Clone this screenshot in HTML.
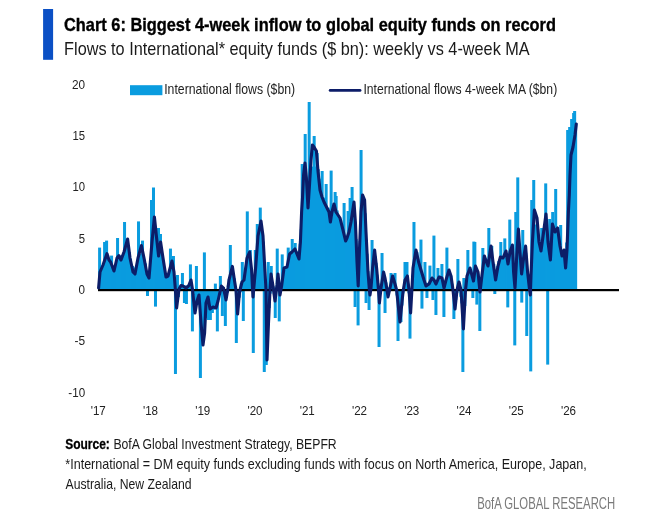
<!DOCTYPE html>
<html><head><meta charset="utf-8"><title>Chart 6</title>
<style>html,body{margin:0;padding:0;background:#fff}svg{display:block}</style></head>
<body>
<svg width="656" height="517" viewBox="0 0 656 517" font-family="'Liberation Sans', sans-serif">
<rect width="656" height="517" fill="#fff"/>
<g fill="#0a9cdf">
<rect x="98.10" y="247.60" width="3.00" height="42.40"/>
<rect x="99.10" y="273.63" width="3.00" height="16.37"/>
<rect x="100.10" y="268.80" width="3.00" height="21.20"/>
<rect x="101.09" y="268.35" width="3.00" height="21.65"/>
<rect x="102.09" y="266.49" width="3.00" height="23.51"/>
<rect x="103.09" y="242.00" width="3.00" height="48.00"/>
<rect x="104.09" y="257.83" width="3.00" height="32.17"/>
<rect x="105.09" y="240.60" width="3.00" height="49.40"/>
<rect x="106.08" y="255.10" width="3.00" height="34.90"/>
<rect x="107.08" y="258.63" width="3.00" height="31.37"/>
<rect x="108.08" y="259.66" width="3.00" height="30.34"/>
<rect x="109.08" y="261.81" width="3.00" height="28.19"/>
<rect x="110.08" y="255.60" width="3.00" height="34.40"/>
<rect x="111.07" y="267.19" width="3.00" height="22.81"/>
<rect x="112.07" y="269.31" width="3.00" height="20.69"/>
<rect x="113.07" y="266.97" width="3.00" height="23.03"/>
<rect x="114.07" y="265.94" width="3.00" height="24.06"/>
<rect x="115.07" y="265.07" width="3.00" height="24.93"/>
<rect x="116.06" y="238.00" width="3.00" height="52.00"/>
<rect x="117.06" y="258.80" width="3.00" height="31.20"/>
<rect x="118.06" y="259.29" width="3.00" height="30.71"/>
<rect x="119.06" y="255.68" width="3.00" height="34.32"/>
<rect x="120.06" y="259.58" width="3.00" height="30.42"/>
<rect x="121.05" y="255.14" width="3.00" height="34.86"/>
<rect x="122.05" y="252.81" width="3.00" height="37.19"/>
<rect x="123.05" y="222.00" width="3.00" height="68.00"/>
<rect x="124.05" y="247.47" width="3.00" height="42.53"/>
<rect x="125.05" y="248.80" width="3.00" height="41.20"/>
<rect x="126.04" y="249.73" width="3.00" height="40.27"/>
<rect x="127.04" y="246.58" width="3.00" height="43.42"/>
<rect x="128.04" y="252.15" width="3.00" height="37.85"/>
<rect x="129.04" y="258.77" width="3.00" height="31.23"/>
<rect x="130.04" y="265.24" width="3.00" height="24.76"/>
<rect x="131.03" y="265.98" width="3.00" height="24.02"/>
<rect x="132.03" y="271.20" width="3.00" height="18.80"/>
<rect x="133.03" y="272.89" width="3.00" height="17.11"/>
<rect x="134.03" y="267.46" width="3.00" height="22.54"/>
<rect x="135.03" y="265.33" width="3.00" height="24.67"/>
<rect x="136.02" y="261.64" width="3.00" height="28.36"/>
<rect x="137.02" y="221.40" width="3.00" height="68.60"/>
<rect x="138.02" y="257.35" width="3.00" height="32.65"/>
<rect x="139.02" y="253.92" width="3.00" height="36.08"/>
<rect x="140.02" y="254.94" width="3.00" height="35.06"/>
<rect x="141.01" y="240.60" width="3.00" height="49.40"/>
<rect x="142.01" y="259.79" width="3.00" height="30.21"/>
<rect x="143.01" y="259.78" width="3.00" height="30.22"/>
<rect x="144.01" y="263.48" width="3.00" height="26.52"/>
<rect x="145.01" y="271.85" width="3.00" height="18.15"/>
<rect x="146.00" y="290.00" width="3.00" height="6.00"/>
<rect x="147.00" y="273.12" width="3.00" height="16.88"/>
<rect x="148.00" y="271.12" width="3.00" height="18.88"/>
<rect x="149.00" y="262.35" width="3.00" height="27.65"/>
<rect x="150.00" y="200.00" width="3.00" height="90.00"/>
<rect x="150.99" y="244.65" width="3.00" height="45.35"/>
<rect x="151.99" y="187.50" width="3.00" height="102.50"/>
<rect x="152.99" y="222.36" width="3.00" height="67.64"/>
<rect x="153.99" y="290.00" width="3.00" height="16.60"/>
<rect x="154.99" y="237.91" width="3.00" height="52.09"/>
<rect x="155.98" y="240.83" width="3.00" height="49.17"/>
<rect x="156.98" y="228.00" width="3.00" height="62.00"/>
<rect x="157.98" y="251.06" width="3.00" height="38.94"/>
<rect x="158.98" y="234.00" width="3.00" height="56.00"/>
<rect x="159.98" y="256.22" width="3.00" height="33.78"/>
<rect x="160.97" y="258.62" width="3.00" height="31.38"/>
<rect x="161.97" y="264.00" width="3.00" height="26.00"/>
<rect x="162.97" y="271.18" width="3.00" height="18.82"/>
<rect x="163.97" y="274.02" width="3.00" height="15.98"/>
<rect x="164.97" y="275.06" width="3.00" height="14.94"/>
<rect x="165.96" y="276.21" width="3.00" height="13.79"/>
<rect x="166.96" y="274.79" width="3.00" height="15.21"/>
<rect x="167.96" y="272.50" width="3.00" height="17.50"/>
<rect x="168.96" y="248.60" width="3.00" height="41.40"/>
<rect x="169.96" y="265.85" width="3.00" height="24.15"/>
<rect x="170.95" y="269.83" width="3.00" height="20.17"/>
<rect x="171.95" y="256.00" width="3.00" height="34.00"/>
<rect x="172.95" y="280.30" width="3.00" height="9.70"/>
<rect x="173.95" y="290.00" width="3.00" height="84.00"/>
<rect x="174.95" y="290.00" width="3.00" height="5.51"/>
<rect x="175.94" y="275.00" width="3.00" height="15.00"/>
<rect x="176.94" y="290.00" width="3.00" height="7.10"/>
<rect x="177.94" y="288.52" width="3.00" height="1.48"/>
<rect x="178.94" y="287.05" width="3.00" height="2.95"/>
<rect x="179.94" y="284.91" width="3.00" height="5.09"/>
<rect x="180.93" y="273.00" width="3.00" height="17.00"/>
<rect x="181.93" y="286.92" width="3.00" height="3.08"/>
<rect x="182.93" y="290.00" width="3.00" height="13.00"/>
<rect x="183.93" y="285.38" width="3.00" height="4.62"/>
<rect x="184.93" y="290.00" width="3.00" height="14.00"/>
<rect x="185.92" y="286.19" width="3.00" height="3.81"/>
<rect x="186.92" y="286.58" width="3.00" height="3.42"/>
<rect x="187.92" y="284.51" width="3.00" height="5.49"/>
<rect x="188.92" y="264.40" width="3.00" height="25.60"/>
<rect x="189.92" y="284.83" width="3.00" height="5.17"/>
<rect x="190.91" y="290.00" width="3.00" height="41.40"/>
<rect x="191.91" y="290.00" width="3.00" height="9.47"/>
<rect x="192.91" y="290.00" width="3.00" height="12.52"/>
<rect x="193.91" y="290.00" width="3.00" height="14.08"/>
<rect x="194.91" y="266.00" width="3.00" height="24.00"/>
<rect x="195.90" y="290.00" width="3.00" height="11.64"/>
<rect x="196.90" y="290.00" width="3.00" height="12.36"/>
<rect x="197.90" y="290.00" width="3.00" height="14.94"/>
<rect x="198.90" y="290.00" width="3.00" height="88.00"/>
<rect x="199.90" y="290.00" width="3.00" height="37.40"/>
<rect x="200.89" y="290.00" width="3.00" height="40.92"/>
<rect x="201.89" y="290.00" width="3.00" height="43.58"/>
<rect x="202.89" y="252.40" width="3.00" height="37.60"/>
<rect x="203.89" y="290.00" width="3.00" height="28.22"/>
<rect x="204.89" y="290.00" width="3.00" height="24.00"/>
<rect x="205.88" y="290.00" width="3.00" height="9.50"/>
<rect x="206.88" y="290.00" width="3.00" height="30.00"/>
<rect x="207.88" y="290.00" width="3.00" height="14.30"/>
<rect x="208.88" y="290.00" width="3.00" height="30.00"/>
<rect x="209.88" y="290.00" width="3.00" height="17.43"/>
<rect x="210.87" y="290.00" width="3.00" height="23.00"/>
<rect x="211.87" y="290.00" width="3.00" height="19.65"/>
<rect x="212.87" y="290.00" width="3.00" height="19.07"/>
<rect x="213.87" y="283.60" width="3.00" height="6.40"/>
<rect x="214.87" y="290.00" width="3.00" height="15.61"/>
<rect x="215.86" y="290.00" width="3.00" height="41.40"/>
<rect x="216.86" y="290.00" width="3.00" height="9.20"/>
<rect x="217.86" y="290.00" width="3.00" height="4.89"/>
<rect x="218.86" y="276.00" width="3.00" height="14.00"/>
<rect x="219.86" y="288.19" width="3.00" height="1.81"/>
<rect x="220.85" y="290.00" width="3.00" height="26.00"/>
<rect x="221.85" y="287.32" width="3.00" height="2.68"/>
<rect x="222.85" y="290.00" width="3.00" height="3.45"/>
<rect x="223.85" y="290.00" width="3.00" height="36.00"/>
<rect x="224.85" y="290.00" width="3.00" height="3.78"/>
<rect x="225.84" y="290.00" width="3.00" height="2.73"/>
<rect x="226.84" y="285.31" width="3.00" height="4.69"/>
<rect x="227.84" y="278.91" width="3.00" height="11.09"/>
<rect x="228.84" y="245.00" width="3.00" height="45.00"/>
<rect x="229.84" y="270.69" width="3.00" height="19.31"/>
<rect x="230.83" y="273.08" width="3.00" height="16.92"/>
<rect x="231.83" y="275.79" width="3.00" height="14.21"/>
<rect x="232.83" y="278.36" width="3.00" height="11.64"/>
<rect x="233.83" y="285.95" width="3.00" height="4.05"/>
<rect x="234.83" y="290.00" width="3.00" height="53.00"/>
<rect x="235.82" y="290.00" width="3.00" height="11.17"/>
<rect x="236.82" y="290.00" width="3.00" height="12.03"/>
<rect x="237.82" y="290.00" width="3.00" height="7.66"/>
<rect x="238.82" y="290.00" width="3.00" height="2.31"/>
<rect x="239.82" y="283.29" width="3.00" height="6.71"/>
<rect x="240.81" y="262.00" width="3.00" height="28.00"/>
<rect x="241.81" y="290.00" width="3.00" height="31.00"/>
<rect x="242.81" y="275.68" width="3.00" height="14.32"/>
<rect x="243.81" y="272.03" width="3.00" height="17.97"/>
<rect x="244.81" y="267.75" width="3.00" height="22.25"/>
<rect x="245.80" y="211.40" width="3.00" height="78.60"/>
<rect x="246.80" y="253.18" width="3.00" height="36.82"/>
<rect x="247.80" y="259.06" width="3.00" height="30.94"/>
<rect x="248.80" y="250.00" width="3.00" height="40.00"/>
<rect x="249.80" y="267.78" width="3.00" height="22.22"/>
<rect x="250.79" y="278.15" width="3.00" height="11.85"/>
<rect x="251.79" y="290.00" width="3.00" height="63.00"/>
<rect x="252.79" y="278.38" width="3.00" height="11.62"/>
<rect x="253.79" y="250.00" width="3.00" height="40.00"/>
<rect x="254.79" y="259.49" width="3.00" height="30.51"/>
<rect x="255.78" y="224.00" width="3.00" height="66.00"/>
<rect x="256.78" y="238.43" width="3.00" height="51.57"/>
<rect x="257.78" y="231.53" width="3.00" height="58.47"/>
<rect x="258.78" y="207.60" width="3.00" height="82.40"/>
<rect x="259.78" y="227.99" width="3.00" height="62.01"/>
<rect x="260.77" y="238.59" width="3.00" height="51.41"/>
<rect x="261.77" y="241.61" width="3.00" height="48.39"/>
<rect x="262.77" y="290.00" width="3.00" height="82.00"/>
<rect x="263.77" y="285.53" width="3.00" height="4.47"/>
<rect x="264.77" y="290.00" width="3.00" height="75.00"/>
<rect x="265.76" y="290.00" width="3.00" height="32.13"/>
<rect x="266.76" y="262.00" width="3.00" height="28.00"/>
<rect x="267.76" y="290.00" width="3.00" height="18.01"/>
<rect x="268.76" y="290.00" width="3.00" height="3.65"/>
<rect x="269.76" y="266.00" width="3.00" height="24.00"/>
<rect x="270.75" y="282.71" width="3.00" height="7.29"/>
<rect x="271.75" y="286.38" width="3.00" height="3.62"/>
<rect x="272.75" y="290.00" width="3.00" height="4.33"/>
<rect x="273.75" y="290.00" width="3.00" height="28.00"/>
<rect x="274.75" y="287.54" width="3.00" height="2.46"/>
<rect x="275.74" y="248.60" width="3.00" height="41.40"/>
<rect x="276.74" y="282.44" width="3.00" height="7.56"/>
<rect x="277.74" y="290.00" width="3.00" height="31.40"/>
<rect x="278.74" y="287.72" width="3.00" height="2.28"/>
<rect x="279.74" y="287.28" width="3.00" height="2.72"/>
<rect x="280.73" y="254.40" width="3.00" height="35.60"/>
<rect x="281.73" y="276.27" width="3.00" height="13.73"/>
<rect x="282.73" y="270.48" width="3.00" height="19.52"/>
<rect x="283.73" y="269.44" width="3.00" height="20.56"/>
<rect x="284.73" y="269.17" width="3.00" height="20.83"/>
<rect x="285.72" y="267.54" width="3.00" height="22.46"/>
<rect x="286.72" y="247.60" width="3.00" height="42.40"/>
<rect x="287.72" y="260.15" width="3.00" height="29.85"/>
<rect x="288.72" y="253.38" width="3.00" height="36.62"/>
<rect x="289.72" y="251.29" width="3.00" height="38.71"/>
<rect x="290.71" y="239.00" width="3.00" height="51.00"/>
<rect x="291.71" y="252.65" width="3.00" height="37.35"/>
<rect x="292.71" y="248.19" width="3.00" height="41.81"/>
<rect x="293.71" y="243.00" width="3.00" height="47.00"/>
<rect x="294.71" y="251.11" width="3.00" height="38.89"/>
<rect x="295.70" y="256.60" width="3.00" height="33.40"/>
<rect x="296.70" y="259.91" width="3.00" height="30.09"/>
<rect x="297.70" y="253.60" width="3.00" height="36.40"/>
<rect x="298.70" y="243.84" width="3.00" height="46.16"/>
<rect x="299.70" y="229.39" width="3.00" height="60.61"/>
<rect x="300.69" y="164.00" width="3.00" height="126.00"/>
<rect x="301.69" y="195.69" width="3.00" height="94.31"/>
<rect x="302.69" y="185.55" width="3.00" height="104.45"/>
<rect x="303.69" y="134.00" width="3.00" height="156.00"/>
<rect x="304.69" y="188.40" width="3.00" height="101.60"/>
<rect x="305.68" y="181.88" width="3.00" height="108.12"/>
<rect x="306.68" y="198.58" width="3.00" height="91.42"/>
<rect x="307.68" y="102.00" width="3.00" height="188.00"/>
<rect x="308.68" y="191.41" width="3.00" height="98.59"/>
<rect x="309.68" y="167.10" width="3.00" height="122.90"/>
<rect x="310.67" y="166.59" width="3.00" height="123.41"/>
<rect x="311.67" y="169.41" width="3.00" height="120.59"/>
<rect x="312.67" y="136.00" width="3.00" height="154.00"/>
<rect x="313.67" y="170.44" width="3.00" height="119.56"/>
<rect x="314.67" y="166.59" width="3.00" height="123.41"/>
<rect x="315.66" y="153.00" width="3.00" height="137.00"/>
<rect x="316.66" y="169.08" width="3.00" height="120.92"/>
<rect x="317.66" y="178.66" width="3.00" height="111.34"/>
<rect x="318.66" y="194.84" width="3.00" height="95.16"/>
<rect x="319.66" y="188.35" width="3.00" height="101.65"/>
<rect x="320.65" y="171.00" width="3.00" height="119.00"/>
<rect x="321.65" y="210.50" width="3.00" height="79.50"/>
<rect x="322.65" y="197.61" width="3.00" height="92.39"/>
<rect x="323.65" y="202.06" width="3.00" height="87.94"/>
<rect x="324.65" y="184.00" width="3.00" height="106.00"/>
<rect x="325.64" y="209.97" width="3.00" height="80.03"/>
<rect x="326.64" y="207.72" width="3.00" height="82.28"/>
<rect x="327.64" y="214.35" width="3.00" height="75.65"/>
<rect x="328.64" y="214.72" width="3.00" height="75.28"/>
<rect x="329.64" y="170.60" width="3.00" height="119.40"/>
<rect x="330.63" y="221.64" width="3.00" height="68.36"/>
<rect x="331.63" y="217.39" width="3.00" height="72.61"/>
<rect x="332.63" y="209.48" width="3.00" height="80.52"/>
<rect x="333.63" y="192.00" width="3.00" height="98.00"/>
<rect x="334.63" y="196.00" width="3.00" height="94.00"/>
<rect x="335.62" y="210.49" width="3.00" height="79.51"/>
<rect x="336.62" y="217.63" width="3.00" height="72.37"/>
<rect x="337.62" y="218.68" width="3.00" height="71.32"/>
<rect x="338.62" y="219.36" width="3.00" height="70.64"/>
<rect x="339.62" y="231.82" width="3.00" height="58.18"/>
<rect x="340.61" y="226.57" width="3.00" height="63.43"/>
<rect x="341.61" y="227.84" width="3.00" height="62.16"/>
<rect x="342.61" y="203.00" width="3.00" height="87.00"/>
<rect x="343.61" y="238.51" width="3.00" height="51.49"/>
<rect x="344.61" y="236.47" width="3.00" height="53.53"/>
<rect x="345.60" y="238.82" width="3.00" height="51.18"/>
<rect x="346.60" y="211.00" width="3.00" height="79.00"/>
<rect x="347.60" y="230.17" width="3.00" height="59.83"/>
<rect x="348.60" y="198.00" width="3.00" height="92.00"/>
<rect x="349.60" y="230.19" width="3.00" height="59.81"/>
<rect x="350.59" y="187.00" width="3.00" height="103.00"/>
<rect x="351.59" y="211.78" width="3.00" height="78.22"/>
<rect x="352.59" y="215.89" width="3.00" height="74.11"/>
<rect x="353.59" y="290.00" width="3.00" height="17.00"/>
<rect x="354.59" y="239.04" width="3.00" height="50.96"/>
<rect x="355.58" y="252.63" width="3.00" height="37.37"/>
<rect x="356.58" y="290.00" width="3.00" height="35.40"/>
<rect x="357.58" y="251.54" width="3.00" height="38.46"/>
<rect x="358.58" y="240.77" width="3.00" height="49.23"/>
<rect x="359.58" y="150.00" width="3.00" height="140.00"/>
<rect x="360.57" y="213.24" width="3.00" height="76.76"/>
<rect x="361.57" y="198.00" width="3.00" height="92.00"/>
<rect x="362.57" y="199.92" width="3.00" height="90.08"/>
<rect x="363.57" y="213.27" width="3.00" height="76.73"/>
<rect x="364.57" y="290.00" width="3.00" height="13.00"/>
<rect x="365.56" y="253.68" width="3.00" height="36.32"/>
<rect x="366.56" y="271.17" width="3.00" height="18.83"/>
<rect x="367.56" y="290.00" width="3.00" height="20.00"/>
<rect x="368.56" y="285.84" width="3.00" height="4.16"/>
<rect x="369.56" y="283.64" width="3.00" height="6.36"/>
<rect x="370.55" y="240.00" width="3.00" height="50.00"/>
<rect x="371.55" y="267.02" width="3.00" height="22.98"/>
<rect x="372.55" y="259.04" width="3.00" height="30.96"/>
<rect x="373.55" y="256.12" width="3.00" height="33.88"/>
<rect x="374.55" y="262.82" width="3.00" height="27.18"/>
<rect x="375.54" y="274.67" width="3.00" height="15.33"/>
<rect x="376.54" y="283.28" width="3.00" height="6.72"/>
<rect x="377.54" y="290.00" width="3.00" height="57.00"/>
<rect x="378.54" y="290.00" width="3.00" height="1.27"/>
<rect x="379.54" y="287.50" width="3.00" height="2.50"/>
<rect x="380.53" y="253.00" width="3.00" height="37.00"/>
<rect x="381.53" y="279.18" width="3.00" height="10.82"/>
<rect x="382.53" y="277.93" width="3.00" height="12.07"/>
<rect x="383.53" y="290.00" width="3.00" height="23.00"/>
<rect x="384.53" y="282.45" width="3.00" height="7.55"/>
<rect x="385.52" y="286.97" width="3.00" height="3.03"/>
<rect x="386.52" y="290.00" width="3.00" height="2.39"/>
<rect x="388.52" y="287.27" width="3.00" height="2.73"/>
<rect x="389.52" y="273.00" width="3.00" height="17.00"/>
<rect x="390.51" y="282.20" width="3.00" height="7.80"/>
<rect x="391.51" y="279.81" width="3.00" height="10.19"/>
<rect x="392.51" y="281.19" width="3.00" height="8.81"/>
<rect x="393.51" y="273.00" width="3.00" height="17.00"/>
<rect x="394.51" y="289.15" width="3.00" height="0.85"/>
<rect x="395.50" y="290.00" width="3.00" height="5.48"/>
<rect x="396.50" y="290.00" width="3.00" height="51.00"/>
<rect x="397.50" y="290.00" width="3.00" height="17.41"/>
<rect x="398.50" y="290.00" width="3.00" height="22.09"/>
<rect x="399.50" y="290.00" width="3.00" height="32.00"/>
<rect x="400.49" y="290.00" width="3.00" height="15.55"/>
<rect x="401.49" y="290.00" width="3.00" height="3.33"/>
<rect x="402.49" y="288.10" width="3.00" height="1.90"/>
<rect x="403.49" y="262.00" width="3.00" height="28.00"/>
<rect x="404.49" y="280.32" width="3.00" height="9.68"/>
<rect x="405.48" y="262.00" width="3.00" height="28.00"/>
<rect x="406.48" y="283.67" width="3.00" height="6.33"/>
<rect x="407.48" y="290.00" width="3.00" height="3.25"/>
<rect x="408.48" y="290.00" width="3.00" height="48.60"/>
<rect x="409.48" y="290.00" width="3.00" height="5.13"/>
<rect x="410.47" y="288.52" width="3.00" height="1.48"/>
<rect x="411.47" y="274.54" width="3.00" height="15.46"/>
<rect x="412.47" y="222.00" width="3.00" height="68.00"/>
<rect x="413.47" y="260.60" width="3.00" height="29.40"/>
<rect x="414.47" y="257.06" width="3.00" height="32.94"/>
<rect x="415.46" y="252.18" width="3.00" height="37.82"/>
<rect x="416.46" y="258.66" width="3.00" height="31.34"/>
<rect x="417.46" y="265.20" width="3.00" height="24.80"/>
<rect x="418.46" y="264.93" width="3.00" height="25.07"/>
<rect x="419.46" y="239.60" width="3.00" height="50.40"/>
<rect x="420.45" y="290.00" width="3.00" height="18.60"/>
<rect x="421.45" y="274.16" width="3.00" height="15.84"/>
<rect x="422.45" y="279.25" width="3.00" height="10.75"/>
<rect x="423.45" y="262.00" width="3.00" height="28.00"/>
<rect x="424.45" y="282.95" width="3.00" height="7.05"/>
<rect x="425.44" y="290.00" width="3.00" height="8.00"/>
<rect x="426.44" y="282.96" width="3.00" height="7.04"/>
<rect x="427.44" y="282.84" width="3.00" height="7.16"/>
<rect x="428.44" y="265.60" width="3.00" height="24.40"/>
<rect x="429.44" y="279.20" width="3.00" height="10.80"/>
<rect x="430.43" y="279.62" width="3.00" height="10.38"/>
<rect x="431.43" y="290.00" width="3.00" height="10.00"/>
<rect x="432.43" y="235.60" width="3.00" height="54.40"/>
<rect x="433.43" y="283.36" width="3.00" height="6.64"/>
<rect x="434.43" y="290.00" width="3.00" height="25.00"/>
<rect x="435.42" y="282.04" width="3.00" height="7.96"/>
<rect x="436.42" y="268.00" width="3.00" height="22.00"/>
<rect x="437.42" y="278.81" width="3.00" height="11.19"/>
<rect x="438.42" y="275.81" width="3.00" height="14.19"/>
<rect x="439.42" y="277.04" width="3.00" height="12.96"/>
<rect x="440.41" y="264.00" width="3.00" height="26.00"/>
<rect x="441.41" y="280.46" width="3.00" height="9.54"/>
<rect x="442.41" y="290.00" width="3.00" height="27.00"/>
<rect x="443.41" y="282.06" width="3.00" height="7.94"/>
<rect x="444.41" y="281.35" width="3.00" height="8.65"/>
<rect x="445.40" y="247.60" width="3.00" height="42.40"/>
<rect x="446.40" y="276.78" width="3.00" height="13.22"/>
<rect x="447.40" y="274.04" width="3.00" height="15.96"/>
<rect x="448.40" y="274.46" width="3.00" height="15.54"/>
<rect x="449.40" y="275.68" width="3.00" height="14.32"/>
<rect x="450.39" y="283.69" width="3.00" height="6.31"/>
<rect x="451.39" y="290.00" width="3.00" height="0.47"/>
<rect x="452.39" y="290.00" width="3.00" height="29.00"/>
<rect x="453.39" y="290.00" width="3.00" height="10.18"/>
<rect x="454.39" y="290.00" width="3.00" height="9.81"/>
<rect x="455.38" y="290.00" width="3.00" height="3.03"/>
<rect x="456.38" y="259.00" width="3.00" height="31.00"/>
<rect x="457.38" y="283.72" width="3.00" height="6.28"/>
<rect x="458.38" y="287.79" width="3.00" height="2.21"/>
<rect x="459.38" y="290.00" width="3.00" height="6.77"/>
<rect x="460.37" y="290.00" width="3.00" height="13.36"/>
<rect x="461.37" y="290.00" width="3.00" height="82.00"/>
<rect x="462.37" y="278.00" width="3.00" height="12.00"/>
<rect x="463.37" y="290.00" width="3.00" height="16.01"/>
<rect x="465.36" y="279.25" width="3.00" height="10.75"/>
<rect x="466.36" y="250.00" width="3.00" height="40.00"/>
<rect x="467.36" y="271.48" width="3.00" height="18.52"/>
<rect x="468.36" y="272.31" width="3.00" height="17.69"/>
<rect x="469.36" y="275.23" width="3.00" height="14.77"/>
<rect x="470.35" y="276.04" width="3.00" height="13.96"/>
<rect x="471.35" y="290.00" width="3.00" height="8.00"/>
<rect x="472.35" y="241.60" width="3.00" height="48.40"/>
<rect x="473.35" y="242.00" width="3.00" height="48.00"/>
<rect x="474.35" y="269.10" width="3.00" height="20.90"/>
<rect x="475.34" y="290.00" width="3.00" height="14.60"/>
<rect x="476.34" y="273.69" width="3.00" height="16.31"/>
<rect x="477.34" y="280.89" width="3.00" height="9.11"/>
<rect x="478.34" y="290.00" width="3.00" height="41.00"/>
<rect x="479.34" y="280.55" width="3.00" height="9.45"/>
<rect x="480.33" y="277.37" width="3.00" height="12.63"/>
<rect x="481.33" y="248.00" width="3.00" height="42.00"/>
<rect x="482.33" y="261.99" width="3.00" height="28.01"/>
<rect x="483.33" y="258.06" width="3.00" height="31.94"/>
<rect x="484.33" y="262.75" width="3.00" height="27.25"/>
<rect x="485.32" y="259.59" width="3.00" height="30.41"/>
<rect x="486.32" y="262.95" width="3.00" height="27.05"/>
<rect x="487.32" y="228.00" width="3.00" height="62.00"/>
<rect x="488.32" y="258.62" width="3.00" height="31.38"/>
<rect x="489.32" y="250.43" width="3.00" height="39.57"/>
<rect x="490.31" y="246.00" width="3.00" height="44.00"/>
<rect x="491.31" y="262.42" width="3.00" height="27.58"/>
<rect x="492.31" y="263.93" width="3.00" height="26.07"/>
<rect x="493.31" y="290.00" width="3.00" height="4.00"/>
<rect x="494.31" y="273.98" width="3.00" height="16.02"/>
<rect x="495.30" y="271.75" width="3.00" height="18.25"/>
<rect x="496.30" y="266.00" width="3.00" height="24.00"/>
<rect x="497.30" y="261.05" width="3.00" height="28.95"/>
<rect x="498.30" y="260.71" width="3.00" height="29.29"/>
<rect x="499.30" y="242.00" width="3.00" height="48.00"/>
<rect x="500.29" y="257.70" width="3.00" height="32.30"/>
<rect x="501.29" y="258.81" width="3.00" height="31.19"/>
<rect x="502.29" y="259.81" width="3.00" height="30.19"/>
<rect x="503.29" y="238.40" width="3.00" height="51.60"/>
<rect x="504.29" y="255.40" width="3.00" height="34.60"/>
<rect x="505.28" y="253.15" width="3.00" height="36.85"/>
<rect x="506.28" y="290.00" width="3.00" height="17.40"/>
<rect x="507.28" y="260.79" width="3.00" height="29.21"/>
<rect x="508.28" y="219.60" width="3.00" height="70.40"/>
<rect x="509.28" y="253.84" width="3.00" height="36.16"/>
<rect x="510.27" y="251.76" width="3.00" height="38.24"/>
<rect x="511.27" y="257.31" width="3.00" height="32.69"/>
<rect x="512.27" y="268.95" width="3.00" height="21.05"/>
<rect x="513.27" y="290.00" width="3.00" height="55.40"/>
<rect x="514.27" y="212.00" width="3.00" height="78.00"/>
<rect x="515.26" y="256.79" width="3.00" height="33.21"/>
<rect x="516.26" y="177.40" width="3.00" height="112.60"/>
<rect x="517.26" y="247.34" width="3.00" height="42.66"/>
<rect x="518.26" y="250.40" width="3.00" height="39.60"/>
<rect x="519.26" y="258.33" width="3.00" height="31.67"/>
<rect x="520.25" y="290.00" width="3.00" height="12.60"/>
<rect x="521.25" y="230.00" width="3.00" height="60.00"/>
<rect x="522.25" y="256.73" width="3.00" height="33.27"/>
<rect x="523.25" y="254.29" width="3.00" height="35.71"/>
<rect x="524.25" y="252.91" width="3.00" height="37.09"/>
<rect x="525.24" y="290.00" width="3.00" height="46.00"/>
<rect x="526.24" y="274.20" width="3.00" height="15.80"/>
<rect x="527.24" y="280.11" width="3.00" height="9.89"/>
<rect x="528.24" y="281.66" width="3.00" height="8.34"/>
<rect x="529.24" y="290.00" width="3.00" height="81.40"/>
<rect x="530.23" y="200.00" width="3.00" height="90.00"/>
<rect x="531.23" y="237.63" width="3.00" height="52.37"/>
<rect x="532.23" y="180.00" width="3.00" height="110.00"/>
<rect x="533.23" y="224.70" width="3.00" height="65.30"/>
<rect x="534.23" y="224.67" width="3.00" height="65.33"/>
<rect x="535.22" y="226.00" width="3.00" height="64.00"/>
<rect x="536.22" y="229.09" width="3.00" height="60.91"/>
<rect x="537.22" y="243.77" width="3.00" height="46.23"/>
<rect x="538.22" y="243.83" width="3.00" height="46.17"/>
<rect x="539.22" y="249.54" width="3.00" height="40.46"/>
<rect x="540.21" y="228.00" width="3.00" height="62.00"/>
<rect x="541.21" y="246.15" width="3.00" height="43.85"/>
<rect x="542.21" y="234.11" width="3.00" height="55.89"/>
<rect x="543.21" y="226.50" width="3.00" height="63.50"/>
<rect x="544.21" y="183.40" width="3.00" height="106.60"/>
<rect x="545.20" y="231.79" width="3.00" height="58.21"/>
<rect x="546.20" y="290.00" width="3.00" height="74.60"/>
<rect x="547.20" y="248.69" width="3.00" height="41.31"/>
<rect x="548.20" y="219.00" width="3.00" height="71.00"/>
<rect x="549.20" y="241.81" width="3.00" height="48.19"/>
<rect x="550.19" y="243.60" width="3.00" height="46.40"/>
<rect x="551.19" y="212.00" width="3.00" height="78.00"/>
<rect x="552.19" y="235.80" width="3.00" height="54.20"/>
<rect x="553.19" y="231.28" width="3.00" height="58.72"/>
<rect x="554.19" y="189.00" width="3.00" height="101.00"/>
<rect x="555.18" y="234.31" width="3.00" height="55.69"/>
<rect x="556.18" y="240.24" width="3.00" height="49.76"/>
<rect x="557.18" y="235.57" width="3.00" height="54.43"/>
<rect x="558.18" y="247.77" width="3.00" height="42.23"/>
<rect x="559.18" y="225.00" width="3.00" height="65.00"/>
<rect x="560.17" y="256.26" width="3.00" height="33.74"/>
<rect x="561.17" y="252.20" width="3.00" height="37.80"/>
<rect x="562.17" y="259.40" width="3.00" height="30.60"/>
<rect x="563.17" y="254.05" width="3.00" height="35.95"/>
<rect x="564.17" y="259.62" width="3.00" height="30.38"/>
<rect x="565.16" y="242.47" width="3.00" height="47.53"/>
<rect x="566.16" y="130.00" width="3.00" height="160.00"/>
<rect x="567.16" y="204.42" width="3.00" height="85.58"/>
<rect x="568.16" y="127.00" width="3.00" height="163.00"/>
<rect x="569.16" y="166.22" width="3.00" height="123.78"/>
<rect x="570.15" y="119.00" width="3.00" height="171.00"/>
<rect x="571.15" y="155.03" width="3.00" height="134.97"/>
<rect x="572.15" y="113.00" width="3.00" height="177.00"/>
<rect x="573.15" y="111.00" width="3.00" height="179.00"/>
<rect x="574.15" y="125.00" width="3.00" height="165.00"/>
</g>
<rect x="98" y="289" width="521" height="2.2" fill="#000"/>
<polyline points="98.6,288.0 100.0,272.0 103.0,265.0 107.0,253.6 109.0,260.0 110.6,262.0 114.0,271.0 117.0,258.0 119.0,255.6 121.0,260.0 124.0,252.0 127.6,239.0 130.0,258.0 133.0,272.0 135.0,274.0 138.0,258.0 141.4,245.6 144.0,258.0 147.0,274.0 149.0,278.0 152.0,242.0 154.4,217.0 156.6,238.0 158.6,256.0 160.6,242.0 163.0,258.0 166.0,277.0 168.0,276.0 172.0,261.0 174.0,272.0 175.4,290.0 176.6,308.0 179.0,289.0 181.0,285.5 183.0,286.0 186.0,288.0 188.5,286.0 191.0,280.0 192.6,290.0 193.0,295.0 195.0,313.0 197.0,301.0 199.0,295.0 201.0,323.0 203.0,345.0 204.6,333.0 206.0,303.0 208.0,297.0 210.0,309.0 213.0,307.0 216.0,308.0 218.0,301.0 220.0,292.0 221.4,286.0 223.5,288.0 226.0,300.0 228.0,288.0 229.0,280.0 232.4,266.4 234.4,280.0 236.0,290.0 237.6,314.0 239.5,292.0 242.0,282.0 244.0,280.0 247.0,258.0 249.6,252.0 251.6,270.0 253.0,297.0 254.5,280.0 255.6,268.0 258.0,236.0 261.0,221.0 263.0,236.0 265.0,272.0 266.0,290.0 267.0,360.0 268.5,323.0 270.0,290.0 271.0,274.0 273.0,286.0 275.0,301.0 277.0,285.0 278.0,274.0 280.0,295.0 281.6,286.0 284.0,268.0 287.0,267.0 289.6,254.0 292.0,252.0 295.0,249.0 297.0,254.0 299.0,259.0 300.4,242.0 301.6,212.0 302.5,198.0 303.6,175.0 305.0,163.0 306.4,178.0 308.0,208.0 309.5,185.0 311.0,160.0 312.4,145.0 314.0,147.0 316.4,151.0 318.0,171.0 320.0,190.0 322.0,197.0 324.0,202.0 329.0,212.0 330.4,222.0 332.0,212.0 334.0,204.0 336.0,212.0 340.0,218.0 343.0,230.0 345.6,241.0 347.0,238.0 349.0,232.0 351.0,222.0 354.0,202.0 355.4,222.0 357.0,262.0 358.2,286.0 359.4,252.0 361.0,212.0 362.6,195.0 364.6,200.0 366.0,232.0 368.0,272.0 369.4,290.0 370.0,295.0 371.0,288.0 372.6,268.0 374.6,250.0 376.6,268.0 378.5,290.0 379.4,303.0 381.0,288.0 383.6,272.0 385.0,278.0 387.0,290.0 388.0,297.0 390.0,288.0 392.6,276.0 395.0,284.0 396.6,290.0 400.0,322.0 403.0,292.0 405.0,280.0 407.4,276.0 409.0,290.0 410.6,313.0 412.0,288.0 413.0,268.0 416.0,250.0 418.6,262.0 421.0,270.0 424.0,280.0 426.0,286.0 429.0,284.0 432.0,278.0 434.0,280.0 436.0,284.0 439.0,277.0 442.0,278.0 444.0,288.0 446.0,280.0 449.0,270.0 451.0,276.0 453.0,290.0 455.0,309.0 457.0,290.0 459.0,282.0 461.0,290.0 463.4,329.0 465.5,290.0 467.0,276.0 470.0,268.0 473.5,281.0 475.5,266.0 478.0,272.0 480.0,292.0 482.0,275.0 484.4,256.0 486.4,262.0 488.0,266.0 491.0,246.0 493.0,262.0 495.6,280.0 498.0,266.0 500.4,257.0 503.0,258.0 506.0,251.0 508.0,264.0 510.0,252.0 512.4,245.0 513.6,272.0 515.0,288.0 516.4,262.0 518.4,229.0 520.0,252.0 521.6,274.0 523.6,258.0 525.6,246.0 527.6,272.0 529.6,290.0 530.3,295.0 531.0,276.0 532.4,242.0 534.4,210.0 537.0,218.0 539.0,242.0 541.0,251.0 543.6,232.0 546.0,214.0 548.0,242.0 550.4,260.0 552.4,224.0 555.0,232.0 557.6,228.0 560.0,246.0 562.0,256.0 564.0,250.0 565.6,268.0 567.0,250.0 568.4,212.0 569.3,195.0 570.0,175.0 571.0,155.0 573.0,147.0 575.0,135.0 576.3,124.0" fill="none" stroke="#0c1d68" stroke-width="3.1" stroke-linejoin="round" stroke-linecap="round"/>
<rect x="43.1" y="9" width="10" height="50.8" fill="#0b50c5"/>
<text x="64.00" y="30.70" font-size="18.60" font-weight="bold" fill="#000" text-anchor="start" textLength="492.0" lengthAdjust="spacingAndGlyphs" stroke="#000" stroke-width="0.35">Chart 6: Biggest 4-week inflow to global equity funds on record</text>
<text x="64.10" y="54.90" font-size="18.20" font-weight="normal" fill="#1a1a1a" text-anchor="start" textLength="465.6" lengthAdjust="spacingAndGlyphs">Flows to International* equity funds ($ bn): weekly vs 4-week MA</text>
<text x="72.00" y="88.80" font-size="13.20" font-weight="normal" fill="#222" text-anchor="start" textLength="13.1" lengthAdjust="spacingAndGlyphs">20</text>
<text x="72.50" y="140.10" font-size="13.20" font-weight="normal" fill="#222" text-anchor="start" textLength="12.6" lengthAdjust="spacingAndGlyphs">15</text>
<text x="72.50" y="191.40" font-size="13.20" font-weight="normal" fill="#222" text-anchor="start" textLength="12.6" lengthAdjust="spacingAndGlyphs">10</text>
<text x="78.80" y="242.70" font-size="13.20" font-weight="normal" fill="#222" text-anchor="start" textLength="6.3" lengthAdjust="spacingAndGlyphs">5</text>
<text x="78.60" y="294.00" font-size="13.20" font-weight="normal" fill="#222" text-anchor="start" textLength="6.5" lengthAdjust="spacingAndGlyphs">0</text>
<text x="74.50" y="345.30" font-size="13.20" font-weight="normal" fill="#222" text-anchor="start" textLength="10.6" lengthAdjust="spacingAndGlyphs">-5</text>
<text x="68.30" y="396.60" font-size="13.20" font-weight="normal" fill="#222" text-anchor="start" textLength="16.8" lengthAdjust="spacingAndGlyphs">-10</text>
<text x="90.70" y="414.70" font-size="13.20" font-weight="normal" fill="#222" text-anchor="start" textLength="15.1" lengthAdjust="spacingAndGlyphs">'17</text>
<text x="142.95" y="414.70" font-size="13.20" font-weight="normal" fill="#222" text-anchor="start" textLength="15.1" lengthAdjust="spacingAndGlyphs">'18</text>
<text x="195.20" y="414.70" font-size="13.20" font-weight="normal" fill="#222" text-anchor="start" textLength="15.1" lengthAdjust="spacingAndGlyphs">'19</text>
<text x="247.45" y="414.70" font-size="13.20" font-weight="normal" fill="#222" text-anchor="start" textLength="15.1" lengthAdjust="spacingAndGlyphs">'20</text>
<text x="299.70" y="414.70" font-size="13.20" font-weight="normal" fill="#222" text-anchor="start" textLength="15.1" lengthAdjust="spacingAndGlyphs">'21</text>
<text x="351.95" y="414.70" font-size="13.20" font-weight="normal" fill="#222" text-anchor="start" textLength="15.1" lengthAdjust="spacingAndGlyphs">'22</text>
<text x="404.20" y="414.70" font-size="13.20" font-weight="normal" fill="#222" text-anchor="start" textLength="15.1" lengthAdjust="spacingAndGlyphs">'23</text>
<text x="456.45" y="414.70" font-size="13.20" font-weight="normal" fill="#222" text-anchor="start" textLength="15.1" lengthAdjust="spacingAndGlyphs">'24</text>
<text x="508.70" y="414.70" font-size="13.20" font-weight="normal" fill="#222" text-anchor="start" textLength="15.1" lengthAdjust="spacingAndGlyphs">'25</text>
<text x="560.95" y="414.70" font-size="13.20" font-weight="normal" fill="#222" text-anchor="start" textLength="15.1" lengthAdjust="spacingAndGlyphs">'26</text>
<rect x="130" y="85.2" width="32.4" height="10" fill="#0a9cdf"/>
<text x="164.20" y="94.00" font-size="14.40" font-weight="normal" fill="#222" text-anchor="start" textLength="131.0" lengthAdjust="spacingAndGlyphs">International flows ($bn)</text>
<line x1="330.2" y1="90.4" x2="360" y2="90.4" stroke="#0c1d68" stroke-width="2.9" stroke-linecap="round"/>
<text x="363.40" y="94.00" font-size="14.40" font-weight="normal" fill="#222" text-anchor="start" textLength="193.8" lengthAdjust="spacingAndGlyphs">International flows 4-week MA ($bn)</text>
<text x="65.20" y="449.00" font-size="14.50" font-weight="bold" fill="#000" text-anchor="start" textLength="44.6" lengthAdjust="spacingAndGlyphs" stroke="#000" stroke-width="0.30">Source:</text>
<text x="113.40" y="449.00" font-size="14.50" font-weight="normal" fill="#1a1a1a" text-anchor="start" textLength="223.3" lengthAdjust="spacingAndGlyphs">BofA Global Investment Strategy, BEPFR</text>
<text x="65.30" y="468.70" font-size="14.50" font-weight="normal" fill="#1a1a1a" text-anchor="start" textLength="521.5" lengthAdjust="spacingAndGlyphs">*International = DM equity funds excluding funds with focus on North America, Europe, Japan,</text>
<text x="65.50" y="489.20" font-size="14.50" font-weight="normal" fill="#1a1a1a" text-anchor="start" textLength="126.0" lengthAdjust="spacingAndGlyphs">Australia, New Zealand</text>
<text x="477.20" y="508.70" font-size="15.60" font-weight="normal" fill="#7a7a7a" text-anchor="start" textLength="138.0" lengthAdjust="spacingAndGlyphs">BofA GLOBAL RESEARCH</text>
</svg>
</body></html>
